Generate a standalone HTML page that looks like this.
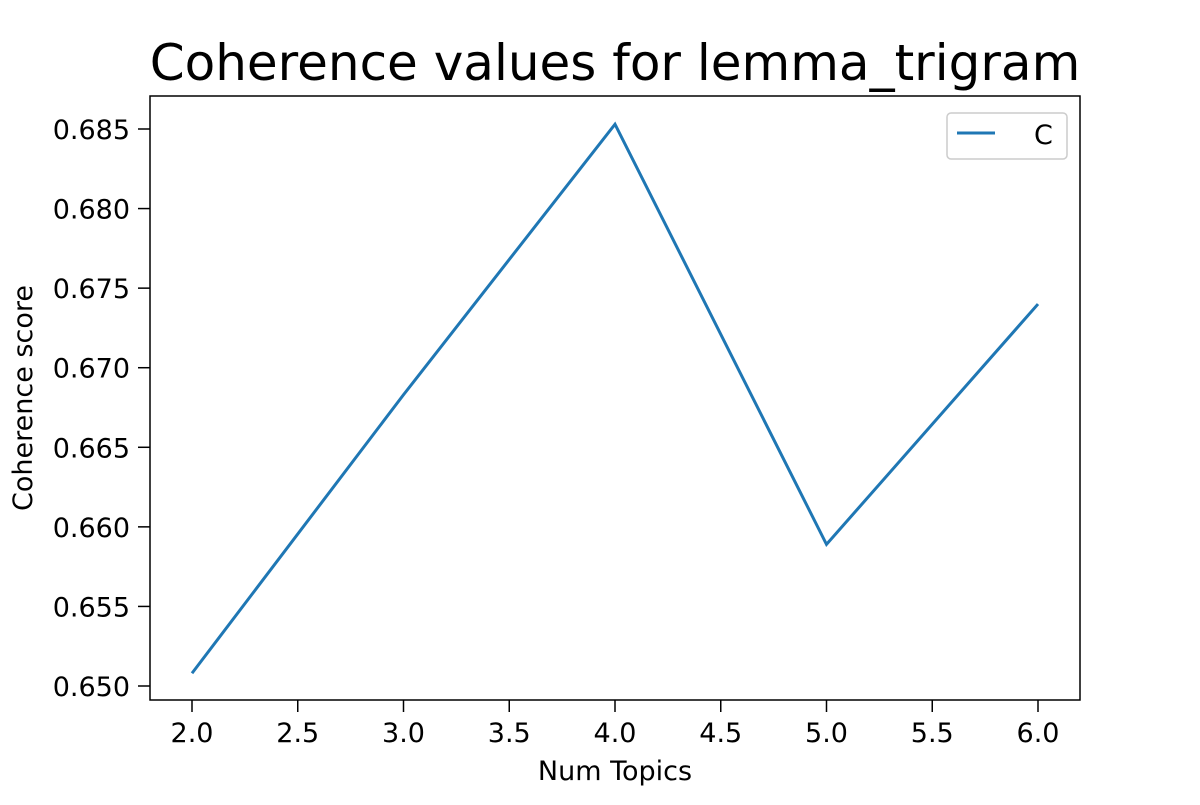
<!DOCTYPE html>
<html><head><meta charset="utf-8"><style>
html,body{margin:0;padding:0;background:#fff;}
svg text{font-family:"DejaVu Sans","Liberation Sans",sans-serif;fill:#000;}
</style></head><body>
<svg id="chart" width="1200" height="800" xmlns="http://www.w3.org/2000/svg">
<rect width="1200" height="800" fill="#fff"/>
<text x="615" y="80" font-size="50" text-anchor="middle">Coherence values for lemma_trigram</text>
<polyline id="series" fill="none" stroke="#1f77b4" stroke-width="3"/>
<rect x="150" y="96" width="930" height="604" fill="none" stroke="#000" stroke-width="1.5"/>
<g id="xticks"></g><g id="yticks"></g>
<text x="615" y="780" font-size="27" text-anchor="middle">Num Topics</text>
<text transform="translate(32,398) rotate(-90)" font-size="27" text-anchor="middle">Coherence score</text>
<g>
<rect x="947" y="113" width="120" height="46" rx="4" fill="#fff" stroke="#ccc" stroke-width="1.5"/>
<line x1="957" y1="133" x2="995" y2="133" stroke="#1f77b4" stroke-width="3"/>
<text x="1034" y="144" font-size="27">C</text>
</g>
</svg>
<script>
const numTopics = [2, 3, 4, 5, 6];
const coherence = [0.6508, 0.6683, 0.6853, 0.6589, 0.6740];
const xTickLabels = ["2.0","2.5","3.0","3.5","4.0","4.5","5.0","5.5","6.0"];
const yTickLabels = ["0.650","0.655","0.660","0.665","0.670","0.675","0.680","0.685"];
const NS = "http://www.w3.org/2000/svg";
function xs(v){ return 192 + (v - 2) * 211.5; }
function ys(v){ return 686 - (v - 0.650) * (557 / 0.035); }
document.getElementById('series').setAttribute('points', numTopics.map((x,i)=>xs(x)+','+ys(coherence[i])).join(' '));
const xg = document.getElementById('xticks');
xTickLabels.forEach(l=>{
  const v = parseFloat(l), x = xs(v);
  const t = document.createElementNS(NS,'line');
  t.setAttribute('x1',x);t.setAttribute('x2',x);t.setAttribute('y1',700);t.setAttribute('y2',712);t.setAttribute('stroke','#000');t.setAttribute('stroke-width','1.5');
  
  
  xg.appendChild(t);
  const tx = document.createElementNS(NS,'text');
  tx.setAttribute('x',x);tx.setAttribute('y',742);tx.setAttribute('font-size','27');tx.setAttribute('text-anchor','middle');
  tx.textContent = l;
  
  
  xg.appendChild(tx);
});
const yg = document.getElementById('yticks');
yTickLabels.forEach(l=>{
  const v = parseFloat(l), y = ys(v);
  const t = document.createElementNS(NS,'line');
  t.setAttribute('x1',138);t.setAttribute('x2',150);t.setAttribute('y1',y);t.setAttribute('y2',y);t.setAttribute('stroke','#000');t.setAttribute('stroke-width','1.5');
  
  
  yg.appendChild(t);
  const tx = document.createElementNS(NS,'text');
  tx.setAttribute('x',130);tx.setAttribute('y',y+10);tx.setAttribute('font-size','27');tx.setAttribute('text-anchor','end');
  tx.textContent = l;
  
  
  yg.appendChild(tx);
});
</script>
</body></html>
